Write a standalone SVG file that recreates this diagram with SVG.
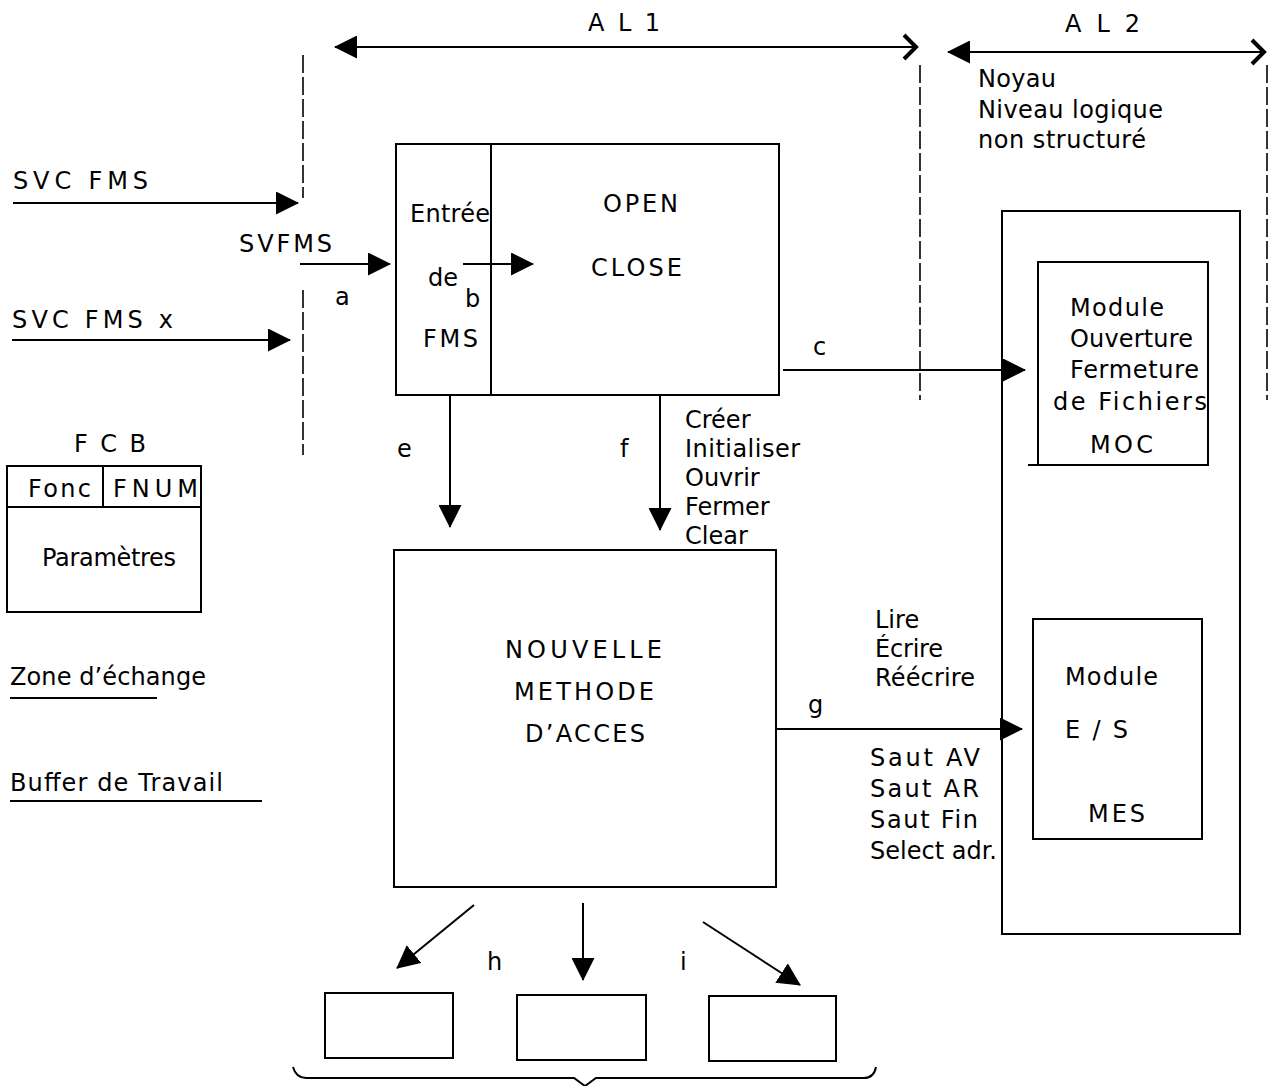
<svg xmlns="http://www.w3.org/2000/svg" width="1276" height="1086" viewBox="0 0 1276 1086">
<style>
.t{font-family:"DejaVu Sans","Liberation Sans",sans-serif;font-size:24px;fill:#000}
.box{fill:none;stroke:#000;stroke-width:2}
.conn{stroke:#000;stroke-width:2;fill:none}
.dash{stroke:#000;stroke-width:1.6;stroke-dasharray:18 4;fill:none}
</style>
<defs>
<marker id="ah" markerUnits="userSpaceOnUse" viewBox="0 0 23 23" refX="22" refY="11.5" markerWidth="23" markerHeight="23" orient="auto-start-reverse">
<path d="M0,0 L23,11.5 L0,23 z" fill="#000"/>
</marker>
<marker id="chev" markerUnits="userSpaceOnUse" viewBox="0 0 18 28" refX="15" refY="14" markerWidth="18" markerHeight="28" orient="auto">
<path d="M3,2 L15,14 L3,26" fill="none" stroke="#000" stroke-width="4"/>
</marker>
</defs>
<rect width="1276" height="1086" fill="#fff"/>

<g id="scale-labels">
<text class="t" x="588" y="31" textLength="72">A L 1</text>
<text class="t" x="1065" y="32" textLength="75">A L 2</text>
<text class="t" x="978" y="87" textLength="78">Noyau</text>
<text class="t" x="978" y="118" textLength="185">Niveau logique</text>
<text class="t" x="978" y="148" textLength="168">non structuré</text>
</g>

<g id="boundaries">
<path class="dash" d="M303,55 V198 M303,290 V455"/>
<path class="dash" d="M920,65 V400"/>
<path class="dash" d="M1267,65 V400"/>
</g>

<g id="inputs">
<text class="t" x="13" y="189" textLength="135">SVC  FMS</text>
<text class="t" x="239" y="252" textLength="93">SVFMS</text>
<text class="t" x="335" y="305">a</text>
<text class="t" x="12" y="328" textLength="161">SVC  FMS x</text>
</g>

<g id="node-open-close">
<rect class="box" x="396" y="144" width="383" height="251"/>
<line class="box" x1="491" y1="144" x2="491" y2="395"/>
<text class="t" x="410" y="222" textLength="80">Entrée</text>
<text class="t" x="428" y="286">de</text>
<text class="t" x="465" y="307">b</text>
<text class="t" x="423" y="347" textLength="55">FMS</text>
<text class="t" x="603" y="212" textLength="75">OPEN</text>
<text class="t" x="591" y="276" textLength="91">CLOSE</text>
</g>

<g id="node-fcb">
<text class="t" x="74" y="452" textLength="72">F C B</text>
<rect class="box" x="7" y="466" width="194" height="146"/>
<line class="box" x1="7" y1="507" x2="201" y2="507"/>
<line class="box" x1="103" y1="466" x2="103" y2="507"/>
<text class="t" x="28" y="497" textLength="63">Fonc</text>
<text class="t" x="113" y="497" textLength="85">FNUM</text>
<text class="t" x="42" y="566" textLength="134">Paramètres</text>
</g>

<g id="node-zone">
<text class="t" x="10" y="685" textLength="196">Zone d’échange</text>
<line class="box" x1="10" y1="698" x2="157" y2="698"/>
</g>

<g id="node-buffer">
<text class="t" x="10" y="791" textLength="213">Buffer de Travail</text>
<line class="box" x1="10" y1="801" x2="262" y2="801"/>
</g>

<g id="node-nma">
<rect class="box" x="394" y="550" width="382" height="337"/>
<text class="t" x="505" y="658" textLength="157">NOUVELLE</text>
<text class="t" x="514" y="700" textLength="140">METHODE</text>
<text class="t" x="525" y="742" textLength="120">D’ACCES</text>
</g>

<g id="node-noyau">
<rect class="box" x="1002" y="211" width="238" height="723"/>
</g>

<g id="node-moc">
<rect class="box" x="1038" y="262" width="170" height="203"/>
<line class="box" x1="1028" y1="465" x2="1038" y2="465"/>
<text class="t" x="1070" y="316" textLength="94">Module</text>
<text class="t" x="1070" y="347" textLength="123">Ouverture</text>
<text class="t" x="1070" y="378" textLength="129">Fermeture</text>
<text class="t" x="1053" y="410" textLength="154">de Fichiers</text>
<text class="t" x="1090" y="453" textLength="63">MOC</text>
</g>

<g id="node-mes">
<rect class="box" x="1033" y="619" width="169" height="220"/>
<text class="t" x="1065" y="685" textLength="93">Module</text>
<text class="t" x="1065" y="738" textLength="63">E / S</text>
<text class="t" x="1088" y="822" textLength="57">MES</text>
</g>

<g id="node-out1"><rect class="box" x="325" y="993" width="128" height="65"/></g>
<g id="node-out2"><rect class="box" x="517" y="995" width="129" height="65"/></g>
<g id="node-out3"><rect class="box" x="709" y="996" width="127" height="65"/></g>

<g id="connectors">
<line class="conn" x1="335" y1="47" x2="916" y2="47" marker-start="url(#ah)" marker-end="url(#chev)"/>
<line class="conn" x1="948" y1="52" x2="1264" y2="52" marker-start="url(#ah)" marker-end="url(#chev)"/>
<line class="conn" x1="13" y1="203" x2="298" y2="203" marker-end="url(#ah)"/>
<line class="conn" x1="300" y1="264" x2="390" y2="264" marker-end="url(#ah)"/>
<line class="conn" x1="12" y1="340" x2="290" y2="340" marker-end="url(#ah)"/>
<line class="conn" x1="463" y1="264" x2="533" y2="264" marker-end="url(#ah)"/>
<line class="conn" x1="450" y1="395" x2="450" y2="527" marker-end="url(#ah)"/>
<line class="conn" x1="660" y1="395" x2="660" y2="530" marker-end="url(#ah)"/>
<line class="conn" x1="783" y1="370" x2="1025" y2="370" marker-end="url(#ah)"/>
<line class="conn" x1="777" y1="729" x2="1022" y2="729" marker-end="url(#ah)"/>
<line class="conn" x1="474" y1="905" x2="397" y2="968" marker-end="url(#ah)"/>
<line class="conn" x1="583" y1="903" x2="583" y2="980" marker-end="url(#ah)"/>
<line class="conn" x1="703" y1="922" x2="800" y2="985" marker-end="url(#ah)"/>
<path class="conn" d="M293,1067 Q296,1078 306,1078 H574 L585,1086 L596,1078 H864 Q874,1078 876,1067"/>
</g>

<g id="connector-labels">
<text class="t" x="813" y="355">c</text>
<text class="t" x="397" y="457">e</text>
<text class="t" x="620" y="457">f</text>
<text class="t" x="685" y="428">Créer</text>
<text class="t" x="685" y="457" textLength="115">Initialiser</text>
<text class="t" x="685" y="486">Ouvrir</text>
<text class="t" x="685" y="515">Fermer</text>
<text class="t" x="685" y="544">Clear</text>
<text class="t" x="875" y="628">Lire</text>
<text class="t" x="875" y="657" textLength="68">Écrire</text>
<text class="t" x="875" y="686" textLength="100">Réécrire</text>
<text class="t" x="808" y="713">g</text>
<text class="t" x="870" y="766" textLength="110">Saut AV</text>
<text class="t" x="870" y="797" textLength="109">Saut AR</text>
<text class="t" x="870" y="828" textLength="108">Saut Fin</text>
<text class="t" x="870" y="859" textLength="127">Select adr.</text>
<text class="t" x="487" y="970">h</text>
<text class="t" x="680" y="970">i</text>
</g>
</svg>
